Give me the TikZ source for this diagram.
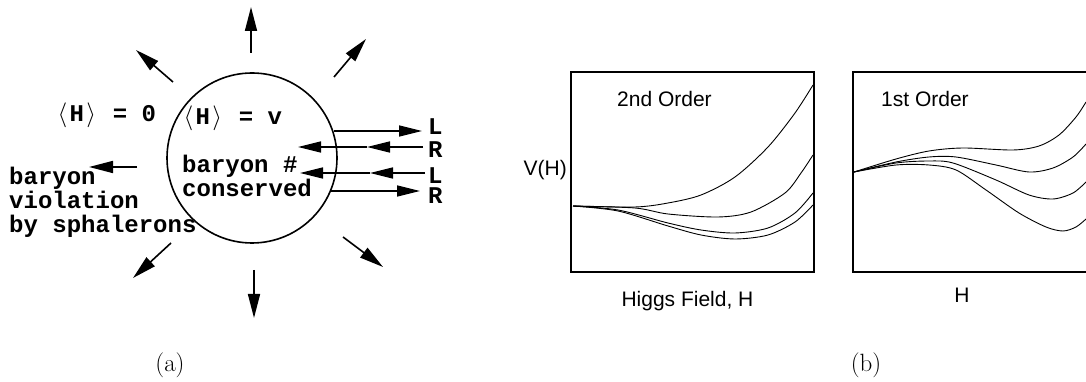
\documentclass[tikz,border=0pt]{standalone}
\usepackage{fontspec}
\newfontfamily\codefont{Liberation Mono}
\newfontfamily\plotfont{Liberation Sans}
\usetikzlibrary{arrows.meta}
\newcommand\langbox{\makebox[0.6em]{$\langle$}}
\newcommand\rangbox{\makebox[0.6em]{$\rangle$}}
\newcommand\fullspace{\spaceskip=0pt\xspaceskip=0pt\relax}
\tikzset{
  code/.style={font={\codefont\bfseries\fontsize{24}{24}\selectfont}, inner sep=0pt},
  plotlabel/.style={font={\plotfont\fontsize{21}{21}\selectfont}, inner sep=0pt},
  ray/.style={line width=1.6pt, -{Triangle[length=24pt,width=12pt]}},
  flux/.style={line width=1.6pt, -{Triangle[length=23pt,width=11pt]}},
  frame/.style={line width=1.1pt},
  potential/.style={line width=0.9pt, smooth},
}
\begin{document}
\begin{tikzpicture}[x=1pt,y=1pt]
        \useasboundingbox (0,0) rectangle (1086,382);
        % (a) bubble of broken phase
        \node[circle, draw, line width=1.6pt, minimum size=170pt, inner sep=0pt] (bubble) at (252,224) {};
        \foreach \sx/\sy/\ex/\ey in {-1/105/-1/151, 82/81/114/119, -79/76/-116/108, -115/-9/-163/-9, -81/-85/-119/-120, 2/-112/2/-160, 91/-79/131/-109}
            \draw[ray, shift={(bubble.center)}] (\sx,\sy) -- (\ex,\ey);
        \node[code, anchor=base west] (outside) at (55,260) {\langbox H\rangbox{} = 0};
        \node[code, anchor=base west] (inside) at (181,257) {\langbox H\rangbox{} = v};
        \node[code, anchor=base west, text width=160pt, align=left] (conserved) at (182,209) {\fullspace baryon \#\\conserved};
        \node[code, anchor=base west, text width=220pt, align=left] (violation) at (9,197) {\fullspace baryon\\violation\\by sphalerons};
        \node[code, anchor=base west] (labL1) at (428,247) {L};
        \node[code, anchor=base west] (labR1) at (428,224) {R};
        \node[code, anchor=base west] (labL2) at (428,198) {L};
        \node[code, anchor=base west] (labR2) at (428,178) {R};
        \coordinate (outL) at (422,251);
        \coordinate (inR) at (423,235);
        \coordinate (midR) at (367,235);
        \coordinate (endR) at (298,235);
        \coordinate (inL) at (425,209);
        \coordinate (midL) at (370,209);
        \coordinate (endL) at (300,209);
        \coordinate (outR) at (420,191);
        \draw[flux] (bubble.18.5 |- outL) -- (outL);
        \draw[flux] (inR) -- (midR);
        \draw[flux] (midR) -- (endR);
        \draw[flux] (inL) -- (midL);
        \draw[flux] (midL) -- (endL);
        \draw[flux] (bubble.337 |- outR) -- (outR);
        \node[font=\fontsize{25}{25}\selectfont, anchor=base, inner sep=0pt] (capA) at (170,10) {(a)};
        % (b) effective potentials
        \draw[frame] (571,110) rectangle (814,310);
        \draw[frame] (1086,310) -| (853,110) -- (1086,110);
        \node[plotlabel, anchor=base west] (order2) at (617,275) {2nd Order};
        \node[plotlabel, anchor=base west] (order1) at (881,275) {1st Order};
        \node[plotlabel, anchor=base east] (vlabel) at (567,206.5) {V(H)};
        \node[plotlabel, anchor=base] (field2) at (687.5,75) {Higgs Field, H};
        \node[plotlabel, anchor=base] (field1) at (962,79) {H};
        \draw[potential] plot coordinates {(573,176) (635,175) (668,179) (701,187) (735,205) (768,235) (795,269) (813,297)};
        \draw[potential] plot coordinates {(573,176) (635,174) (668,168) (718,165) (751,170) (785,189) (801,209) (813,227)};
        \draw[potential] plot coordinates {(573,176) (618,172) (668,159) (701,152) (735,149) (768,154) (795,169) (813,189)};
        \draw[potential] plot coordinates {(573,176) (618,171) (668,156) (701,147) (735,143) (768,147) (795,160) (813,177)};
        \draw[potential] plot coordinates {(854,210) (896,223) (929,231) (963,234) (1013,232) (1039,236) (1059,247) (1076,265) (1086,280)};
        \draw[potential] plot coordinates {(854,210) (896,220) (929,225) (956,225) (996,217) (1029,210) (1053,214) (1073,225) (1086,238)};
        \draw[potential] plot coordinates {(854,210) (896,219) (929,221) (953,219) (996,202) (1029,187) (1053,183) (1073,189) (1086,200)};
        \draw[potential] plot coordinates {(854,210) (896,217) (929,217) (956,212) (986,192) (1019,169) (1046,155) (1063,151) (1076,155) (1086,163)};
        \node[font=\fontsize{25}{25}\selectfont, anchor=base, inner sep=0pt] (capB) at (866,10) {(b)};
    \end{tikzpicture}
\end{document}
